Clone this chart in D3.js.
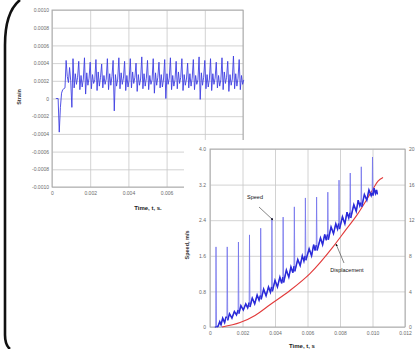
<!DOCTYPE html>
<html>
<head>
<meta charset="utf-8">
<script src="https://cdn.jsdelivr.net/npm/d3@7"></script>
<style>
  body { margin: 0; background: #fff; }
  svg text { font-family: "Liberation Sans", Arial, sans-serif; }
</style>
</head>
<body>
<svg id="chart" width="417" height="349"></svg>
<script>
// ---- data: strain chart (sampled signal) ----
const strainStart = 0.0002;
const strainStep = 0.00006;
const strainValues = [
  0, 0, 0, -0.00038, -0.0001, 0.00006, 0.0001, 0.00011, 0.00012, 0.00043, 0.00025, 0.00018, 0.00035, 0.0002, -0.0001,
  0.00045, 0.00012, 0.00028, 0.00016, 0.00024,
  0.00042, 0.00010, 0.00026, 0.00013, 0.00022,
  0.00046, 0.00005, 0.00029, 0.00015, 0.00023,
  0.00041, 0.00011, 0.00027, 0.00017, 0.00021,
  0.00044, 0.00009, 0.00030, 0.00014, 0.00024,
  0.00039, 0.00012, 0.00026, 0.00016, 0.00022,
  0.00045, 0.00010, 0.00028, 0.00015, 0.00025,
  0.00043, -0.00014, 0.00027, 0.00014, 0.00022,
  0.00046, 0.00011, 0.00029, 0.00016, 0.00023,
  0.00042, 0.00009, 0.00026, 0.00013, 0.00021,
  0.00045, 0.00012, 0.00030, 0.00017, 0.00024,
  0.00040, 0.00008, 0.00027, 0.00015, 0.00022,
  0.00047, 0.00011, 0.00028, 0.00014, 0.00023,
  0.00043, 0.00010, 0.00026, 0.00016, 0.00021,
  0.00045, 0.00006, 0.00029, 0.00015, 0.00024,
  0.00041, 0.00012, 0.00027, 0.00013, 0.00022,
  0.00044, 0.00000, 0.00028, 0.00016, 0.00023,
  0.00046, 0.00010, 0.00026, 0.00014, 0.00021,
  0.00042, 0.00011, 0.00030, 0.00017, 0.00024,
  0.00045, 0.00009, 0.00027, 0.00015, 0.00022,
  0.00040, 0.00012, 0.00028, 0.00014, 0.00023,
  0.00044, 0.00010, 0.00026, 0.00016, 0.00021,
  0.00047, -0.00001, 0.00029, 0.00015, 0.00024,
  0.00043, 0.00011, 0.00027, 0.00013, 0.00022,
  0.00045, 0.00009, 0.00028, 0.00016, 0.00023,
  0.00041, 0.00012, 0.00026, 0.00014, 0.00021,
  0.00046, 0.00010, 0.00030, 0.00017, 0.00024,
  0.00042, 0.00008, 0.00027, 0.00015, 0.00022,
  0.00048, 0.00011, 0.00028, 0.00014, 0.00023,
  0.00044, 0.00010, 0.00026, 0.00016, 0.00021
];
const strainTicks = [0.001, 0.0008, 0.0006, 0.0004, 0.0002, 0, -0.0002, -0.0004, -0.0006, -0.0008, -0.001];
const strainTimeTicks = [0, 0.002, 0.004, 0.006, 0.008, 0.010];

// ---- data: speed / displacement chart ----
const speedPts = [
  [0.0003, 0], [0.00035, 0], [0.00037, 1.80], [0.0004, 0], [0.0005, 0.02], [0.0006, 0.12], [0.00068, 0.05], [0.00078, 0.2], [0.0009, 0.1], [0.00098, 0.22],
  [0.00104, 0.22], [0.00106, 1.80], [0.00109, 0.15], [0.0012, 0.3], [0.00135, 0.2], [0.0015, 0.35], [0.00163, 0.27],
  [0.00173, 0.38], [0.00175, 1.91], [0.00178, 0.3], [0.0019, 0.48], [0.00205, 0.38], [0.0022, 0.52], [0.00232, 0.43],
  [0.00241, 0.55], [0.00243, 2.07], [0.00246, 0.45], [0.0026, 0.65], [0.00275, 0.52], [0.0029, 0.72], [0.00302, 0.6],
  [0.0031, 0.71], [0.00312, 2.22], [0.00315, 0.62], [0.0033, 0.85], [0.00345, 0.7], [0.0036, 0.9], [0.00372, 0.78],
  [0.00379, 0.9], [0.00381, 2.45], [0.00384, 0.8], [0.004, 1.05], [0.00415, 0.9], [0.0043, 1.12], [0.00441, 0.98],
  [0.00448, 1.12], [0.0045, 2.47], [0.00453, 1.0], [0.0047, 1.28], [0.00485, 1.12], [0.00498, 1.35], [0.0051, 1.22],
  [0.00517, 1.37], [0.00519, 2.70], [0.00522, 1.25], [0.0054, 1.52], [0.00555, 1.38], [0.00568, 1.6], [0.00578, 1.48],
  [0.00585, 1.6], [0.00587, 2.90], [0.0059, 1.5], [0.0061, 1.76], [0.00625, 1.6], [0.00638, 1.85], [0.00647, 1.72],
  [0.00654, 1.84], [0.00656, 2.92], [0.00659, 1.72], [0.0068, 2.0], [0.00693, 1.85], [0.00706, 2.08], [0.00716, 1.95],
  [0.00723, 2.08], [0.00725, 3.03], [0.00728, 1.96], [0.00745, 2.25], [0.0076, 2.1], [0.00774, 2.32], [0.00785, 2.2],
  [0.00792, 2.33], [0.00794, 3.30], [0.00797, 2.2], [0.00815, 2.48], [0.0083, 2.32], [0.00843, 2.58], [0.00854, 2.45],
  [0.00861, 2.57], [0.00863, 3.46], [0.00866, 2.45], [0.00885, 2.75], [0.009, 2.6], [0.00912, 2.85], [0.00922, 2.72],
  [0.00929, 2.8], [0.00931, 3.60], [0.00934, 2.7], [0.0095, 2.98], [0.00965, 2.85], [0.00978, 3.08], [0.00992, 2.95],
  [0.00998, 3.02], [0.0100, 3.82], [0.01003, 2.95], [0.0101, 3.12], [0.01018, 3.0], [0.01025, 3.08], [0.0103, 2.98]
];
const dispT = [0.00074, 0.00185, 0.00277, 0.00369, 0.00492, 0.00615, 0.00757, 0.00831, 0.00905, 0.00997, 0.01034, 0.01065];
const dispV = [0, 0.5, 1.3, 2.5, 4.1, 6.0, 9.0, 10.8, 12.6, 15.3, 16.4, 16.8];
const speedTicks = [0, 0.8, 1.6, 2.4, 3.2, 4.0];
const dispTicks = [0, 4, 8, 12, 16, 20];
const speedTimeTicks = [0, 0.002, 0.004, 0.006, 0.008, 0.010, 0.012];

const svg = d3.select('#chart');
const gridColor = '#c6c6c6';
const labelColor = '#6a6a6a';

function styleAxis(g) {
  g.select('.domain').remove();
  g.selectAll('.tick line').attr('stroke', gridColor).attr('stroke-width', 0.8);
  g.selectAll('.tick text').attr('fill', labelColor).attr('font-size', 5);
}

// ================= Strain chart =================
const p1 = { left: 52, right: 243, top: 10, bottom: 187 };
const x1 = d3.scaleLinear().domain([0, 0.010]).range([p1.left, p1.right]);
const y1 = d3.scaleLinear().domain([-0.001, 0.001]).range([p1.bottom, p1.top]);

svg.append('g')
  .attr('transform', `translate(${p1.left},0)`)
  .call(d3.axisLeft(y1).tickValues(strainTicks).tickSizeInner(-(p1.right - p1.left)).tickSizeOuter(0).tickPadding(3)
    .tickFormat(d => d === 0 ? '0' : d.toFixed(4)))
  .call(styleAxis);

svg.append('g')
  .attr('transform', `translate(0,${p1.bottom})`)
  .call(d3.axisBottom(x1).tickValues(strainTimeTicks).tickSizeInner(-(p1.bottom - p1.top)).tickSizeOuter(0).tickPadding(4)
    .tickFormat(d => d === 0 ? '0' : d.toFixed(3)))
  .call(styleAxis);

svg.append('rect')
  .attr('x', p1.left).attr('y', p1.top)
  .attr('width', p1.right - p1.left).attr('height', p1.bottom - p1.top)
  .attr('fill', 'none').attr('stroke', '#a8a8a8').attr('stroke-width', 0.9);

const strainLine = d3.line()
  .x((d, i) => x1(strainStart + i * strainStep))
  .y(d => y1(d));

svg.append('path')
  .datum(strainValues)
  .attr('fill', 'none')
  .attr('stroke', '#4040e2')
  .attr('stroke-width', 0.9)
  .attr('d', strainLine);

svg.append('text')
  .attr('transform', `translate(21,97) rotate(-90)`)
  .attr('text-anchor', 'middle')
  .attr('font-size', 5.5).attr('font-weight', 'bold').attr('fill', '#333')
  .text('Strain');

svg.append('text')
  .attr('x', 148).attr('y', 210)
  .attr('text-anchor', 'middle')
  .attr('font-size', 6).attr('font-weight', 'bold').attr('fill', '#222')
  .text('Time, t, s.');

// ================= Speed / displacement chart =================
svg.append('rect')
  .attr('x', 184).attr('y', 140).attr('width', 233).attr('height', 209)
  .attr('fill', '#fff');

const p2 = { left: 210, right: 405, top: 149, bottom: 327 };
const x2 = d3.scaleLinear().domain([0, 0.012]).range([p2.left, p2.right]);
const y2 = d3.scaleLinear().domain([0, 4.0]).range([p2.bottom, p2.top]);
const y2r = d3.scaleLinear().domain([0, 20]).range([p2.bottom, p2.top]);

svg.append('g')
  .attr('transform', `translate(${p2.left},0)`)
  .call(d3.axisLeft(y2).tickValues(speedTicks).tickSizeInner(-(p2.right - p2.left)).tickSizeOuter(0).tickPadding(4)
    .tickFormat(d => d === 0 ? '0' : d.toFixed(1)))
  .call(styleAxis);

svg.append('g')
  .attr('transform', `translate(${p2.right},0)`)
  .call(d3.axisRight(y2r).tickValues(dispTicks).tickSize(0).tickPadding(4))
  .call(styleAxis);

svg.append('g')
  .attr('transform', `translate(0,${p2.bottom})`)
  .call(d3.axisBottom(x2).tickValues(speedTimeTicks).tickSizeInner(-(p2.bottom - p2.top)).tickSizeOuter(0).tickPadding(4)
    .tickFormat(d => d === 0 ? '0' : d.toFixed(3)))
  .call(styleAxis);

svg.append('rect')
  .attr('x', p2.left).attr('y', p2.top)
  .attr('width', p2.right - p2.left).attr('height', p2.bottom - p2.top)
  .attr('fill', 'none').attr('stroke', '#a8a8a8').attr('stroke-width', 0.9);

const dispData = dispT.map((t, i) => [t, dispV[i]]);
svg.append('path')
  .datum(dispData)
  .attr('fill', 'none')
  .attr('stroke', '#e23a3a')
  .attr('stroke-width', 1.1)
  .attr('d', d3.line().x(d => x2(d[0])).y(d => y2r(d[1])).curve(d3.curveMonotoneX));

// full speed trace (spikes show as thin, lighter lines)
const speedLine = d3.line().x(d => x2(d[0])).y(d => y2(d[1]));
svg.append('path')
  .datum(speedPts)
  .attr('fill', 'none')
  .attr('stroke', '#7272ec')
  .attr('stroke-width', 0.8)
  .attr('d', speedLine);

// heavier trace along the running part, skipping the spike peaks
const isPeak = (d, i) => i > 0 && i < speedPts.length - 1 &&
  d[1] - speedPts[i - 1][1] > 0.5 && d[1] - speedPts[i + 1][1] > 0.5;
svg.append('path')
  .datum(speedPts)
  .attr('fill', 'none')
  .attr('stroke', '#2a2ad8')
  .attr('stroke-width', 1.5)
  .attr('d', d3.line().defined((d, i) => !isPeak(d, i)).x(d => x2(d[0])).y(d => y2(d[1])));

svg.append('text')
  .attr('transform', `translate(189,245) rotate(-90)`)
  .attr('text-anchor', 'middle')
  .attr('font-size', 5.5).attr('font-weight', 'bold').attr('fill', '#333')
  .text('Speed, m/s');

svg.append('text')
  .attr('x', 302).attr('y', 348)
  .attr('text-anchor', 'middle')
  .attr('font-size', 6).attr('font-weight', 'bold').attr('fill', '#222')
  .text('Time, t, s');

// annotations
svg.append('defs').append('marker')
  .attr('id', 'arrow').attr('viewBox', '0 0 10 10')
  .attr('refX', 9).attr('refY', 5)
  .attr('markerWidth', 4).attr('markerHeight', 4)
  .attr('orient', 'auto')
  .append('path').attr('d', 'M0,0 L10,5 L0,10 z').attr('fill', '#111');

svg.append('text')
  .attr('x', 255).attr('y', 199)
  .attr('text-anchor', 'middle')
  .attr('font-size', 5.5).attr('fill', '#111')
  .text('Speed');
svg.append('line')
  .attr('x1', 259).attr('y1', 207).attr('x2', 273).attr('y2', 220)
  .attr('stroke', '#333').attr('stroke-width', 0.6)
  .attr('marker-end', 'url(#arrow)');

svg.append('text')
  .attr('x', 347).attr('y', 272)
  .attr('text-anchor', 'middle')
  .attr('font-size', 5.5).attr('fill', '#111')
  .text('Displacement');
svg.append('line')
  .attr('x1', 344).attr('y1', 263).attr('x2', 336).attr('y2', 244)
  .attr('stroke', '#333').attr('stroke-width', 0.6)
  .attr('marker-end', 'url(#arrow)');

// left frame curve
svg.append('path')
  .attr('d', 'M20,0 Q5,12 5,45 L5,335 Q5,345 10,349')
  .attr('fill', 'none').attr('stroke', '#111').attr('stroke-width', 2.6);
</script>
</body>
</html>
